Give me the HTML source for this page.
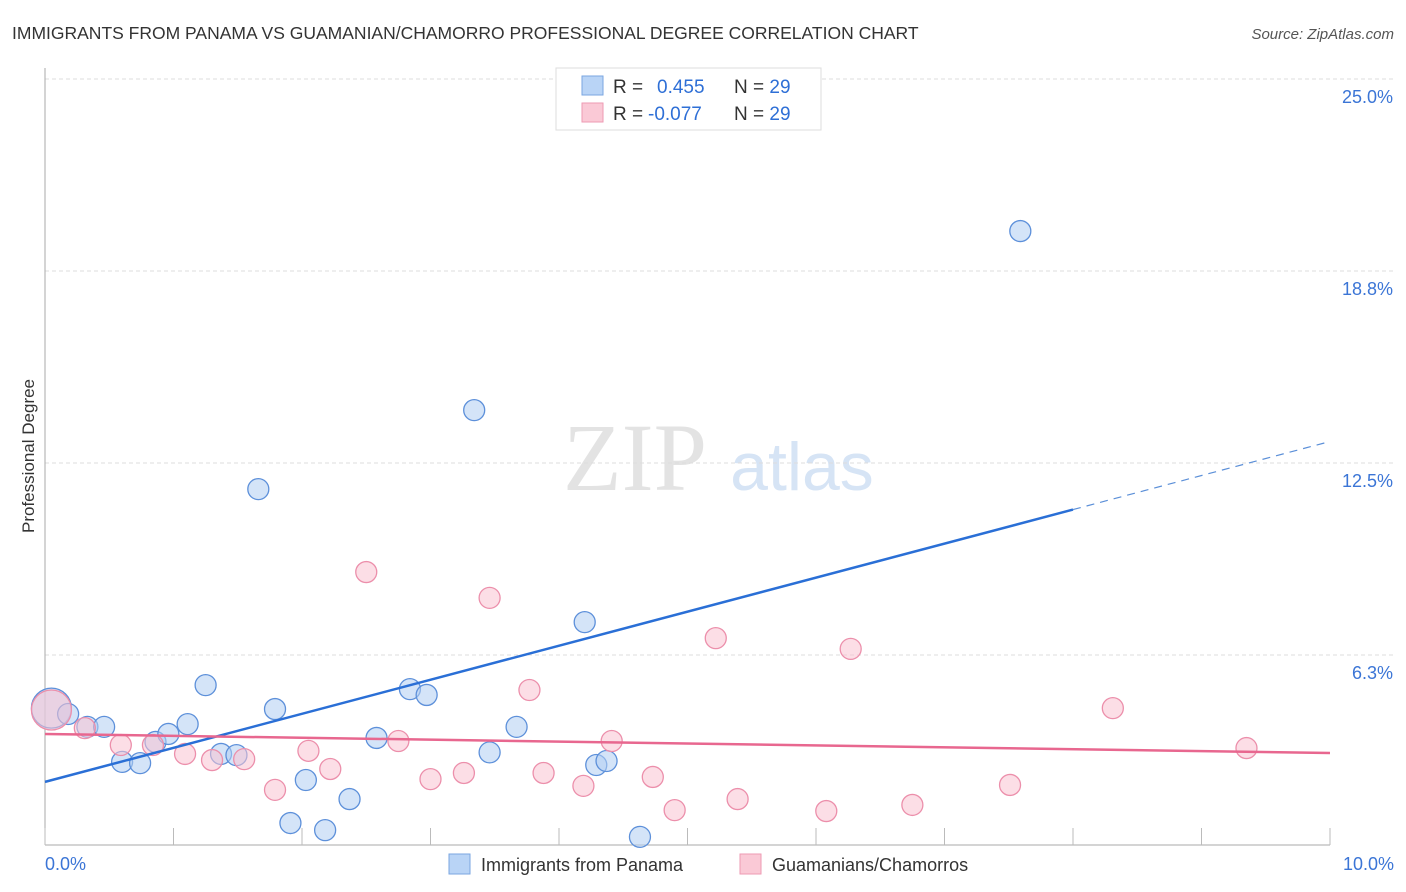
<!DOCTYPE html>
<html><head><meta charset="utf-8">
<style>
body{margin:0;background:#fff;font-family:"Liberation Sans",sans-serif;}
#wrap{position:relative;width:1406px;height:892px;overflow:hidden;}
</style></head>
<body>
<div id="wrap">
<svg id="svg" width="1406" height="892" xmlns="http://www.w3.org/2000/svg">
<text x="12" y="39" font-size="17.5" fill="#333">IMMIGRANTS FROM PANAMA VS GUAMANIAN/CHAMORRO PROFESSIONAL DEGREE CORRELATION CHART</text>
<text x="1394" y="39" font-size="15" fill="#555" font-style="italic" text-anchor="end">Source: ZipAtlas.com</text>
<text x="635" y="490" font-size="96" fill="#e3e3e3" font-family="Liberation Serif,serif" text-anchor="middle">ZIP</text>
<text x="802" y="490" font-size="68" fill="#d6e4f5" text-anchor="middle">atlas</text>
<text transform="translate(34,456) rotate(-90)" font-size="17" fill="#333" text-anchor="middle">Professional Degree</text>
<g id="grid"></g>
<g id="axes"></g>
<g id="pts"></g>
<g id="lines"></g>
<g>
<rect x="556" y="68" width="265" height="62" fill="#fff" stroke="#ddd"/>
<rect x="582" y="76" width="21" height="19" fill="#b9d4f6" stroke="#7aa6e0"/>
<rect x="582" y="103" width="21" height="19" fill="#fac9d6" stroke="#ee9ab3"/>
<text x="613" y="93" font-size="19" fill="#333">R = <tspan x="657" fill="#2e6fd6">0.455</tspan><tspan x="734" fill="#333">N = </tspan><tspan fill="#2e6fd6">29</tspan></text>
<text x="613" y="120" font-size="19" fill="#333">R = <tspan x="648" fill="#2e6fd6">-0.077</tspan><tspan x="734" fill="#333">N = </tspan><tspan fill="#2e6fd6">29</tspan></text>
</g>
<g>
<rect x="449" y="854" width="21" height="20" fill="#b9d4f6" stroke="#7aa6e0"/>
<text x="481" y="871" font-size="18" fill="#333">Immigrants from Panama</text>
<rect x="740" y="854" width="21" height="20" fill="#fac9d6" stroke="#ee9ab3"/>
<text x="772" y="871" font-size="18" fill="#333">Guamanians/Chamorros</text>
</g>
</svg>
</div>
<script>
const yTicks=[25.0,18.75,12.5,6.25];
const yTickLabels=["25.0%","18.8%","12.5%","6.3%"];
const xTicks=[0,1,2,3,4,5,6,7,8,9,10];
const xEndLabels=["0.0%","10.0%"];
const panamaX=[0.05,0.18,0.33,0.46,0.60,0.74,0.86,0.96,1.11,1.25,1.37,1.49,1.66,1.79,1.91,2.03,2.18,2.37,2.58,2.84,2.97,3.34,3.46,3.67,4.20,4.29,4.37,4.63,7.59];
const panamaY=[4.52,4.33,3.91,3.91,2.77,2.73,3.42,3.68,4.00,5.27,3.03,2.99,11.65,4.49,0.78,2.18,0.55,1.56,3.55,5.14,4.95,14.22,3.08,3.91,7.32,2.67,2.80,0.33,20.05];
const guamX=[0.05,0.31,0.59,0.84,1.09,1.30,1.55,1.79,2.05,2.22,2.50,2.75,3.00,3.26,3.46,3.77,3.88,4.19,4.41,4.73,4.90,5.22,5.39,6.08,6.27,6.75,7.51,8.31,9.35];
const guamY=[4.46,3.87,3.32,3.32,3.03,2.83,2.86,1.86,3.13,2.54,8.95,3.45,2.21,2.41,8.11,5.11,2.41,1.99,3.45,2.28,1.20,6.80,1.56,1.17,6.45,1.37,2.02,4.52,3.22];
const panamaTrend=[2.12,13.2];
const guamTrend=[3.68,3.06];
const panamaSolidEnd=8;

const NS="http://www.w3.org/2000/svg";
const X=v=>45+v*128.5;
const Y=v=>847-v*30.72;
function mk(tag,attrs,parent){const e=document.createElementNS(NS,tag);for(const k in attrs)e.setAttribute(k,attrs[k]);parent.appendChild(e);return e;}
const grid=document.getElementById('grid'),axes=document.getElementById('axes'),pts=document.getElementById('pts'),lines=document.getElementById('lines');
yTicks.forEach((t,i)=>{
  const l=mk('line',{x1:45,x2:1395,y1:Y(t),y2:Y(t),stroke:'#ddd','stroke-dasharray':'4,3'},grid);
  
  
  const tx=mk('text',{x:1393,y:Y(t)+24,'font-size':18,fill:'#3b75d6','text-anchor':'end'},grid);
  tx.textContent=yTickLabels[i];
  
  
});
const ya=mk('line',{x1:45,x2:45,y1:68,y2:845,stroke:'#aaa'},axes);


const xa=mk('line',{x1:45,x2:1330,y1:845,y2:845,stroke:'#aaa'},axes);


xTicks.forEach(t=>{
  const l=mk('line',{x1:X(t),x2:X(t),y1:828,y2:845,stroke:'#bbb'},axes);
  
  
});
[[0,'start',45],[10,'end',1394]].forEach((d,i)=>{
  const tx=mk('text',{x:d[2],y:870,'font-size':18,fill:'#3b75d6','text-anchor':d[1]},axes);
  tx.textContent=xEndLabels[i];
  
  
});
function dots(xs,ys,fill,stroke,name){
  xs.forEach((x,i)=>{
    const r=i===0?20:10.5;
    const c=mk('circle',{cx:X(x),cy:Y(ys[i]),r:r,fill:fill,'fill-opacity':0.55,stroke:stroke,'stroke-width':1.3},pts);
    
    
  });
}
dots(panamaX,panamaY,'#b0cdf3','#5d90da','panama-point');
dots(guamX,guamY,'#f9c2d2','#ec8fab','guam-point');
const py=v=>panamaTrend[0]+(panamaTrend[1]-panamaTrend[0])*v/10;
const l1=mk('line',{x1:X(0),y1:Y(py(0)),x2:X(panamaSolidEnd),y2:Y(py(panamaSolidEnd)),stroke:'#2a6fd6','stroke-width':2.5},lines);


const l2=mk('line',{x1:X(panamaSolidEnd),y1:Y(py(panamaSolidEnd)),x2:X(10),y2:Y(py(10)),stroke:'#5b8fd8','stroke-width':1.2,'stroke-dasharray':'8,6'},lines);


const l3=mk('line',{x1:X(0),y1:Y(guamTrend[0]),x2:X(10),y2:Y(guamTrend[1]),stroke:'#e8678f','stroke-width':2.5},lines);


</script>
</body></html>
